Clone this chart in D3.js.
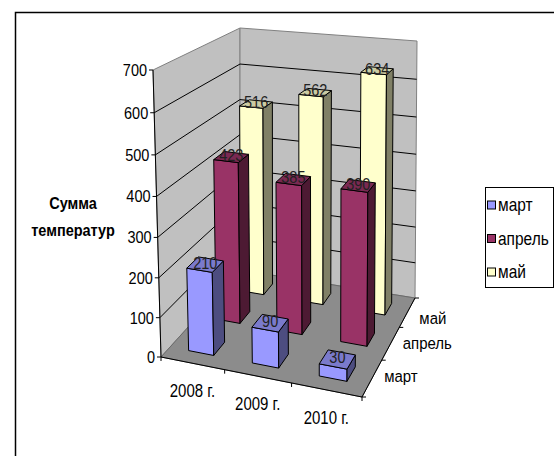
<!DOCTYPE html>
<html>
<head>
<meta charset="utf-8">
<script src="https://cdn.jsdelivr.net/npm/d3@7"></script>
<style>
  html, body { margin: 0; padding: 0; background: #fff; }
  svg text { font-family: "Liberation Sans", Arial, sans-serif; }
</style>
</head>
<body>
<svg id="chart" width="554" height="456"></svg>
<script>
// ---- data ----
const categories = ["2008 г.", "2009 г.", "2010 г."];
const seriesNames = ["март", "апрель", "май"];
const march = [210, 90, 30];
const april = [423, 385, 390];
const may = [516, 562, 634];
const valueTicks = [0, 100, 200, 300, 400, 500, 600, 700];
const yTitle = ["Сумма", "температур"];

// ---- styles ----
const seriesValues = [march, april, may];
const faceColors = [
  { front: "#9999ff", side: "#4d4d80", top: "#7a7acc" },
  { front: "#993366", side: "#4d1a33", top: "#7a2952" },
  { front: "#ffffcc", side: "#808066", top: "#cccca3" }
];
const seriesLabelDy = [4, 6, 12];

// ---- 3D projection calibration (screen anchors of the plot box) ----
const FL = [161, 357], FR = [362, 397], BR = [415, 298], BL = [240, 270];
// vertical vectors (floor -> top of wall) at the four corners
const VFL = [-8, -287], VFR = [2, -305], VBR = [2, -257], VBL = [0, -242];
const PERSP_R = 1.05;

function squareToQuad(p0, p1, p2, p3) {
  const [x0, y0] = p0, [x1, y1] = p1, [x2, y2] = p2, [x3, y3] = p3;
  const dx1 = x1 - x2, dx2 = x3 - x2, dx3 = x0 - x1 + x2 - x3;
  const dy1 = y1 - y2, dy2 = y3 - y2, dy3 = y0 - y1 + y2 - y3;
  const den = dx1 * dy2 - dx2 * dy1;
  const g = (dx3 * dy2 - dx2 * dy3) / den;
  const h = (dx1 * dy3 - dx3 * dy1) / den;
  return {
    a: x1 - x0 + g * x1, b: x3 - x0 + h * x3, c: x0,
    d: y1 - y0 + g * y1, e: y3 - y0 + h * y3, f: y0, g, h
  };
}
const H = squareToQuad(FL, FR, BR, BL);
function floorPt(u, v) {
  const w = H.g * u + H.h * v + 1;
  return [(H.a * u + H.b * v + H.c) / w, (H.d * u + H.e * v + H.f) / w];
}
function vert(u, v) {
  return [0, 1].map(k =>
    (1 - u) * (1 - v) * VFL[k] + u * (1 - v) * VFR[k] + u * v * VBR[k] + (1 - u) * v * VBL[k]);
}
function sPersp(t) { return t / (PERSP_R + t * (1 - PERSP_R)); }
function P(u, v, t) {
  const f = floorPt(u, v), d = vert(u, v), s = sPersp(t);
  return [f[0] + s * d[0], f[1] + s * d[1]];
}

// ---- scales ----
const xBand = d3.scaleBand().domain(categories).range([0, 1]).paddingInner(0.6).paddingOuter(0.3);
const zBand = d3.scaleBand().domain(seriesNames).range([0, 1]).paddingInner(0.6).paddingOuter(0.3);
const yLin = d3.scaleLinear().domain([0, 700]).range([0, 1]);

const svg = d3.select("#chart");
const line = d3.line();
const poly = pts => line(pts) + "Z";

function label(x, y, str, opts) {
  const o = Object.assign({ size: 15, sx: 1, sy: 1.15, anchor: "start", weight: "normal", fill: "#000" }, opts || {});
  svg.append("g").attr("transform", `translate(${x},${y}) scale(${o.sx},${o.sy})`)
    .append("text").attr("text-anchor", o.anchor).attr("font-size", o.size)
    .attr("font-weight", o.weight).attr("fill", o.fill).text(str);
}

// frame
svg.append("rect").attr("x", 15.5).attr("y", 12.5).attr("width", 600).attr("height", 500)
  .attr("fill", "#fff").attr("stroke", "#000").attr("stroke-width", 1.5);

// walls
const tMax = yLin(700);
svg.append("path").attr("d", poly([P(0,0,0), P(0,1,0), P(0,1,tMax), P(0,0,tMax)]))
  .attr("fill", "#c0c0c0").attr("stroke", "#808080");
svg.append("path").attr("d", poly([P(0,1,0), P(1,1,0), P(1,1,tMax), P(0,1,tMax)]))
  .attr("fill", "#c0c0c0").attr("stroke", "#808080");

// gridlines
valueTicks.filter(v => v > 0 && v < 700).forEach(v => {
  const t = yLin(v);
  svg.append("path").attr("d", line([P(0,0,t), P(0,1,t), P(1,1,t)]))
    .attr("fill", "none").attr("stroke", "#000").attr("stroke-width", 1);
});

// floor
svg.append("path").attr("d", poly([P(0,0,0), P(1,0,0), P(1,1,0), P(0,1,0)]))
  .attr("fill", "#8c8c8c").attr("stroke", "#6a6a6a");

// value axis
svg.append("path").attr("d", line([P(0,0,0), P(0,0,tMax)])).attr("stroke", "#000").attr("fill", "none");
valueTicks.forEach(v => {
  const p = P(0, 0, yLin(v));
  svg.append("line").attr("x1", p[0] - 4).attr("x2", p[0]).attr("y1", p[1]).attr("y2", p[1]).attr("stroke", "#000");
  label(p[0] - 6, p[1] + 6, v, { size: 14.5, anchor: "end" });
});

// category axis (front edge)
svg.append("path").attr("d", line([P(0,0,0), P(1,0,0)])).attr("stroke", "#000").attr("fill", "none");
[0, 1, 2, 3].forEach(i => {
  const p = P(i / 3, 0, 0);
  svg.append("line").attr("x1", p[0]).attr("x2", p[0]).attr("y1", p[1]).attr("y2", p[1] + 4).attr("stroke", "#000");
});
categories.forEach(c => {
  const p = P(xBand(c) + xBand.bandwidth() / 2, 0, 0);
  label(p[0], p[1] + 34, c, { size: 15, anchor: "middle", sy: 1.2 });
});

// series axis (right edge)
svg.append("path").attr("d", line([P(1,0,0), P(1,1,0)])).attr("stroke", "#000").attr("fill", "none");
[0, 1, 2, 3].forEach(i => {
  const p = P(1, i / 3, 0);
  svg.append("line").attr("x1", p[0]).attr("x2", p[0] + 4).attr("y1", p[1]).attr("y2", p[1]).attr("stroke", "#000");
});
seriesNames.forEach((s, i) => {
  const p = P(1, zBand(s) + zBand.bandwidth() / 2, 0);
  label(p[0] + 12, p[1] + seriesLabelDy[i], s, { size: 15, anchor: "start" });
});

// bars, back to front
const bw = xBand.bandwidth(), bd = zBand.bandwidth();
const labels = [];
[2, 1, 0].forEach(si => {
  const s = seriesNames[si];
  const v0 = zBand(s), v1 = v0 + bd;
  categories.forEach((c, ci) => {
    const val = seriesValues[si][ci];
    const u0 = xBand(c), u1 = u0 + bw, t = yLin(val);
    const col = faceColors[si];
    const g = svg.append("g").attr("stroke", "#000").attr("stroke-width", 1).attr("stroke-linejoin", "round");
    g.append("path").attr("d", poly([P(u0,v0,0), P(u1,v0,0), P(u1,v0,t), P(u0,v0,t)])).attr("fill", col.front);
    g.append("path").attr("d", poly([P(u1,v0,0), P(u1,v1,0), P(u1,v1,t), P(u1,v0,t)])).attr("fill", col.side);
    g.append("path").attr("d", poly([P(u0,v0,t), P(u1,v0,t), P(u1,v1,t), P(u0,v1,t)])).attr("fill", col.top);
    const cp = P((u0 + u1) / 2, (v0 + v1) / 2, t);
    labels.push({ x: cp[0], y: cp[1], text: val });
  });
});
labels.forEach(l => {
  label(l.x, l.y + 4, l.text, { size: 14.5, anchor: "middle", fill: "#222" });
});

// y-axis title
yTitle.forEach((s, i) => {
  label(73, 209 + i * 27, s, { size: 14.5, anchor: "middle", weight: "bold", sy: 1.1 });
});

// legend
svg.append("rect").attr("x", 485.5).attr("y", 187.5).attr("width", 68).attr("height", 100)
  .attr("fill", "#fff").attr("stroke", "#000");
seriesNames.forEach((s, i) => {
  const cy = 205 + i * 33.5;
  svg.append("rect").attr("x", 487.5).attr("y", cy - 4).attr("width", 8).attr("height", 8)
    .attr("fill", faceColors[i].front).attr("stroke", "#000");
  label(498, cy + 6, s, { size: 15.5, anchor: "start" });
});
</script>
</body>
</html>
